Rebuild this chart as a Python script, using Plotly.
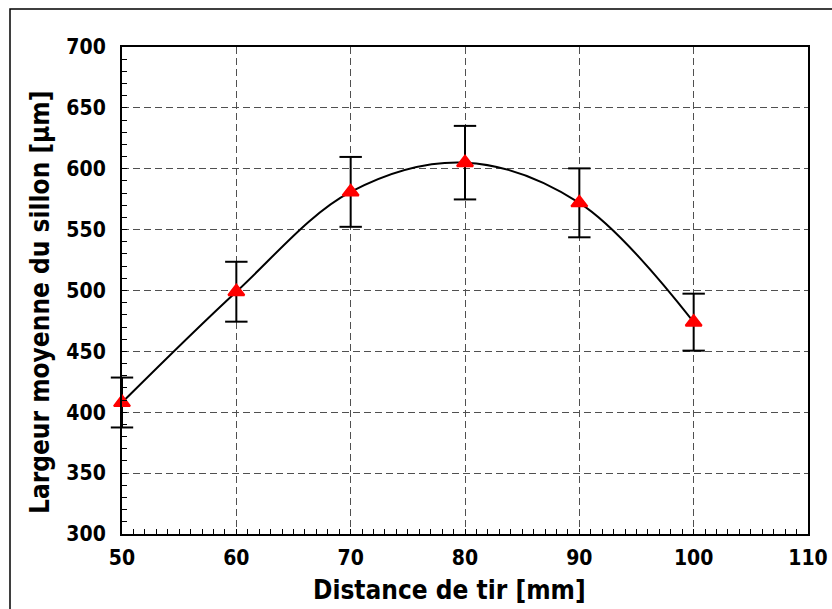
import plotly.graph_objects as go

# Data
distance_mm = [50, 60, 70, 80, 90, 100]
largeur_um = [408, 499, 581, 605, 572, 474]
erreur_um = [20.5, 24.6, 28.7, 30.2, 28.3, 23.4]

x_ticks = [50, 60, 70, 80, 90, 100, 110]
y_ticks = [300, 350, 400, 450, 500, 550, 600, 650, 700]

FONT = "DejaVu Sans Condensed, Tahoma, DejaVu Sans, sans-serif"

W, H = 832, 609
L, R, T, B = 122, 24, 47, 75
pw, ph = W - L - R, H - T - B

def px_x(px):
    return (px - L) / pw

def px_y(py):
    return (H - B - py) / ph

fig = go.Figure()
# error-bar stems
fig.add_trace(go.Scatter(
    x=distance_mm, y=largeur_um, mode="none",
    error_y=dict(type="data", array=erreur_um, visible=True,
                 color="black", thickness=2, width=0),
    showlegend=False, hoverinfo="skip",
))
# error-bar caps (markers so they are not clipped at the axis)
cap_x = distance_mm + distance_mm
cap_y = [v + e for v, e in zip(largeur_um, erreur_um)] + \
        [v - e for v, e in zip(largeur_um, erreur_um)]
fig.add_trace(go.Scatter(
    x=cap_x, y=cap_y, mode="markers",
    marker=dict(symbol="line-ew", size=16, color="black",
                line=dict(color="black", width=2)),
    cliponaxis=False, showlegend=False, hoverinfo="skip",
))
# smoothed curve + markers
fig.add_trace(go.Scatter(
    x=distance_mm, y=largeur_um,
    mode="lines+markers",
    line=dict(color="black", width=2, shape="spline", smoothing=1.0),
    marker=dict(symbol="triangle-up", size=14, color="#ff0000",
                line=dict(color="#ff0000", width=2)),
    cliponaxis=False,
    showlegend=False,
))

axis_common = dict(
    showline=True, linecolor="black", linewidth=2, mirror=True,
    ticks="inside", ticklen=5, tickcolor="black", tickwidth=1,
    showgrid=True, gridcolor="#505050", gridwidth=1, griddash="7px,4px",
    zeroline=False,
    tickfont=dict(family=FONT, size=21, color="black", weight="bold"),
)

fig.update_xaxes(
    range=[50, 110], tickvals=x_ticks, ticktext=[str(v) for v in x_ticks],
    minor=dict(dtick=1, ticks="inside", ticklen=5, tickcolor="black",
               tickwidth=1, showgrid=False),
    ticklabelstandoff=4,
    **axis_common,
)
fig.update_yaxes(
    range=[300, 700], tickvals=y_ticks, ticktext=[str(v) for v in y_ticks],
    minor=dict(dtick=10, ticks="inside", ticklen=5, tickcolor="black",
               tickwidth=1, showgrid=False),
    ticklabelstandoff=10,
    **axis_common,
)

fig.add_annotation(
    text="Largeur moyenne du sillon [µm]", textangle=-90,
    xref="paper", yref="paper", x=px_x(40), y=px_y(303),
    xanchor="center", yanchor="middle", showarrow=False,
    font=dict(family=FONT, size=26, color="black", weight="bold"),
)
fig.add_annotation(
    text="Distance de tir [mm]",
    xref="paper", yref="paper", x=px_x(449), y=px_y(590),
    xanchor="center", yanchor="middle", showarrow=False,
    font=dict(family=FONT, size=26, color="black", weight="bold"),
)

# Outer chart-area border
fig.add_shape(
    type="rect", xref="paper", yref="paper",
    x0=px_x(10), x1=px_x(W + 20), y0=px_y(H + 20), y1=px_y(9),
    line=dict(color="black", width=1.5), fillcolor="rgba(0,0,0,0)",
    layer="below",
)

fig.update_layout(
    width=W, height=H,
    margin=dict(l=L, r=R, t=T, b=B, autoexpand=False),
    paper_bgcolor="white", plot_bgcolor="white",
)

fig.write_html(
    "out.html",
    config={"displayModeBar": False},
    post_script="document.body.style.margin='0';document.body.style.overflow='hidden';",
)
